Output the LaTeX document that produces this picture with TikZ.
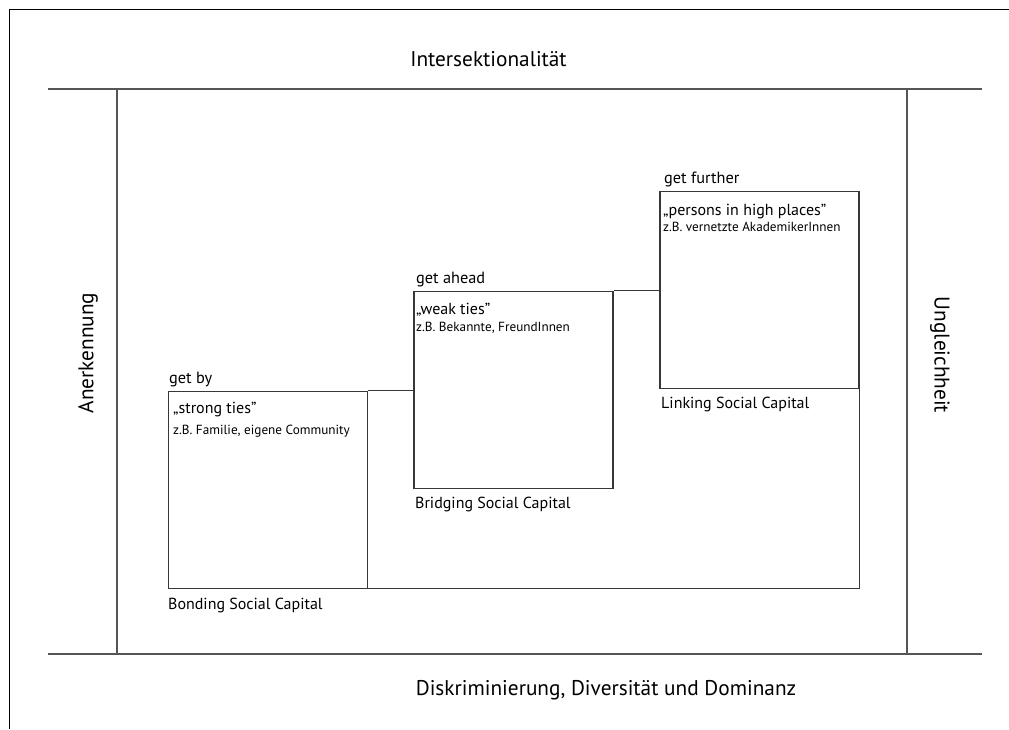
\documentclass[tikz,border=0pt]{standalone}
\usepackage{fontspec}
\setmainfont{PT Sans}
\definecolor{linegray}{RGB}{85,85,85}
\definecolor{boxgray}{RGB}{55,55,55}
\begin{document}
\begin{tikzpicture}[x=1pt,y=-1pt,
  frameline/.style={draw=linegray,line width=1.6pt},
  capbox/.style={draw=boxgray,line width=1.3pt,rectangle,inner sep=0pt,anchor=north west},
  link/.style={draw=boxgray,line width=1.3pt},
  bigtxt/.style={inner sep=0pt,font=\fontsize{21.3}{25}\selectfont,text=black},
  gettxt/.style={inner sep=0pt,anchor=base west,font=\fontsize{16.3}{19}\selectfont,text=black},
  quotetxt/.style={inner sep=0pt,anchor=base west,font=\fontsize{16}{19}\selectfont,text=black},
  egtxt/.style={inner sep=0pt,anchor=base west,font=\fontsize{13.2}{15}\selectfont,text=black},
  captxt/.style={inner sep=0pt,anchor=base west,font=\fontsize{16}{19}\selectfont,text=black}]
\useasboundingbox (0,0) rectangle (1009,729);
% outer border (cropped)
\draw[black,line width=1.2pt] (9.5,729) -- (9.5,9.5) -- (1009,9.5);
% frame lines
\draw[frameline] (48,89) -- (982,89);
\draw[frameline] (48,654) -- (982,654);
\draw[frameline] (117,89) -- (117,654);
\draw[frameline] (907,89) -- (907,654);
% boxes
\node[capbox,minimum width=199pt,minimum height=197pt] (b1) at (168,390.5) {};
\node[capbox,minimum width=199pt,minimum height=197pt] (b2) at (413.3,290.7) {};
\node[capbox,minimum width=199pt,minimum height=197pt] (b3) at (659.3,190.7) {};
% connectors
\draw[link] (b1.north east) -- (b1.north east -| b2.west);
\draw[link] (b2.north east) -- (b2.north east -| b3.west);
\draw[link] (b1.south east) -- (b1.south east -| b3.east) -- (b3.south east);
% outer labels
\node[bigtxt,anchor=base] (inter) at (488.5,66) {Intersektionalität};
\node[bigtxt,anchor=base] (disk) at (606,695) {Diskriminierung, Diversität und Dominanz};
\node[bigtxt,rotate=90,anchor=center] (aner) at (88,353) {Anerkennung};
\node[bigtxt,rotate=-90,anchor=center] (ungl) at (940,355) {Ungleichheit};
% box 1
\node[gettxt] (gb) at (169,383) {get by};
\node[quotetxt] (q1) at (173,413) {„strong ties"};
\node[egtxt] (e1) at (173,434) {z.B. Familie, eigene Community};
\node[captxt] (c1) at (168,609) {Bonding Social Capital};
% box 2
\node[gettxt] (ga) at (416,283) {get ahead};
\node[quotetxt] (q2) at (416,314) {„weak ties"};
\node[egtxt] (e2) at (416,331) {z.B. Bekannte, FreundInnen};
\node[captxt] (c2) at (415,508) {Bridging Social Capital};
% box 3
\node[gettxt] (gf) at (664,183) {get further};
\node[quotetxt] (q3) at (663,215) {„persons in high places"};
\node[egtxt] (e3) at (663,231) {z.B. vernetzte AkademikerInnen};
\node[captxt] (c3) at (661,408) {Linking Social Capital};
\end{tikzpicture}
\end{document}
